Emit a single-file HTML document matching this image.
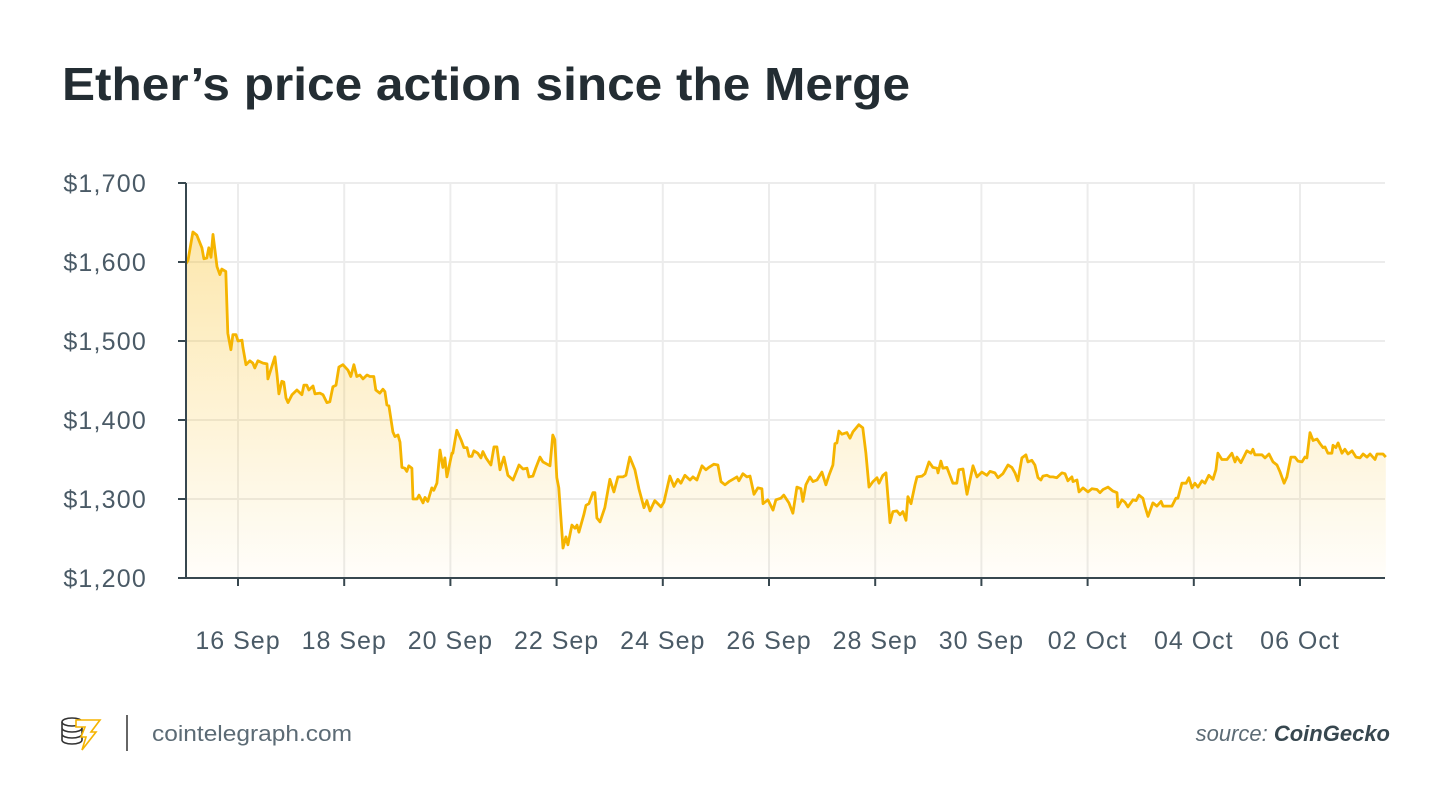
<!DOCTYPE html>
<html><head><meta charset="utf-8"><style>
body{margin:0;background:#fff;width:1450px;height:812px;overflow:hidden;font-family:"Liberation Sans",sans-serif;}
svg{display:block}
</style></head><body>
<svg id="chart" width="1450" height="812">
<defs><linearGradient id="fillGrad" x1="0" y1="0" x2="0" y2="1">
<stop offset="0" stop-color="#F7B500" stop-opacity="0.32"/>
<stop offset="1" stop-color="#F7B500" stop-opacity="0.02"/></linearGradient></defs>
<text x="62" y="100" font-size="46" font-weight="bold" fill="#232d33" textLength="848" lengthAdjust="spacingAndGlyphs">Ether’s price action since the Merge</text>
<g id="grid"></g>
<g id="area"></g>
<g id="axes"></g>
<g>
 <g fill="none" stroke-width="1.6">
  <ellipse cx="72" cy="722" rx="10" ry="4" stroke="#333"/>
  <path d="M62 722v6c0 2.2 4.5 4 10 4s10-1.8 10-4v-6M62 728v6c0 2.2 4.5 4 10 4s10-1.8 10-4v-6M62 734v6c0 2.2 4.5 4 10 4s10-1.8 10-4v-6" stroke="#333"/>
  <path d="M76 720h24l-9 12h5l-14 18 4-13h-5l4-10h-9z" stroke="#F5B400" fill="#fff"/>
 </g>
 <line x1="127" y1="715" x2="127" y2="751" stroke="#666" stroke-width="2"/>
 <text x="152" y="741" font-size="22" fill="#5c6b75" textLength="200" lengthAdjust="spacingAndGlyphs">cointelegraph.com</text>
 <text x="1390" y="741" font-size="22" font-style="italic" fill="#5c6b75" text-anchor="end">source: <tspan font-weight="bold" fill="#37474f">CoinGecko</tspan></text>
</g>
</svg>
<script>
// hours since 15 Sep 00:00
const hours=[0.5,1.4,3.6,5.4,7.7,8.6,9.9,10.8,11.8,12.7,14.5,15.8,16.7,18.5,19.4,20.8,21.7,23.1,24.0,25.8,26.2,27.6,29.4,30.7,31.6,33.0,35.3,37.1,37.5,40.7,41.6,42.5,43.8,44.7,45.7,46.6,48.4,50.6,52.9,53.8,55.1,56.0,57.9,58.8,61.0,62.4,64.2,65.5,66.9,68.3,69.6,71.4,73.7,75.0,76.4,77.7,79.1,80.5,82.3,83.6,85.4,86.3,88.1,89.5,90.4,91.3,92.2,94.0,94.9,96.3,97.2,98.1,99.4,100.3,101.2,102.6,103.1,104.9,105.8,107.6,108.5,109.8,111.6,112.5,113.9,115.3,116.6,117.5,118.4,120.7,121.1,122.9,124.8,126.1,127.5,128.4,129.7,130.6,132.4,133.8,134.7,136.1,138.3,139.7,141.0,142.4,144.2,146.0,148.3,149.6,151.0,152.8,154.6,155.5,157.3,158.7,160.5,161.8,165.0,166.3,167.2,168.1,169.0,170.9,172.2,173.1,174.9,176.3,177.2,178.1,180.3,181.3,182.6,184.4,185.3,186.2,187.6,189.8,192.1,193.9,195.7,198.0,199.3,201.1,203.4,205.2,207.5,208.8,210.2,212.4,215.2,216.5,219.2,221.0,222.8,224.2,226.0,228.3,229.6,231.4,233.7,235.5,236.8,239.1,240.9,242.3,244.1,245.9,247.7,249.5,250.4,252.2,254.0,255.4,257.2,259.0,260.8,261.3,263.5,265.8,267.1,269.4,270.7,273.0,274.8,276.6,278.4,279.3,280.7,282.5,283.9,285.7,287.9,289.7,291.1,292.9,293.8,294.7,295.6,297.0,299.2,300.6,301.9,304.6,306.4,307.8,309.2,311.0,312.8,313.7,315.5,316.9,318.7,320.0,321.8,323.2,324.5,325.9,326.8,328.2,330.0,330.9,333.2,334.5,336.3,338.1,340.0,340.4,341.7,342.6,344.4,347.1,348.9,349.8,351.7,353.5,356.2,358.0,360.2,362.5,363.9,366.1,367.5,369.7,372.0,373.8,375.2,376.5,378.3,380.1,381.0,382.8,384.2,385.6,386.9,387.8,389.6,391.0,392.3,394.1,396.4,397.8,399.1,400.9,401.4,403.2,404.1,405.9,408.2,410.0,412.2,413.6,415.0,417.2,419.5,421.3,421.7,423.5,424.9,426.2,428.5,429.9,431.2,433.0,433.9,435.3,437.5,439.3,441.2,442.1,444.3,446.1,447.9,448.8,450.6,452.5,453.8,455.2,456.5,457.9,459.7,461.0,462.8,464.7,466.0,466.9,468.7,471.0,473.2,474.6,475.5,477.3,480.0,481.8,482.7,483.6,486.8,488.2,490.0,491.8,493.6,495.0,496.8,498.1,499.9,501.7,503.1,504.9,506.2,507.1,508.5,509.9,511.7,513.1,514.4,515.3,516.6,518.4,518.9,520.2,521.2,523.0,524.3,525.7,527.5,529.3,531.1,532.5,534.3,535.7,537.9,538.8,541.5,542.8];
const prices=[1598,1602,1638,1634,1618,1604,1605,1618,1606,1635,1594,1584,1591,1588,1510,1489,1508,1508,1500,1501,1492,1470,1475,1472,1466,1475,1472,1471,1452,1480,1459,1433,1449,1448,1428,1422,1432,1438,1432,1444,1444,1438,1443,1433,1434,1432,1422,1423,1442,1444,1467,1470,1463,1455,1470,1455,1457,1452,1457,1455,1455,1438,1434,1439,1436,1419,1418,1385,1379,1381,1372,1340,1339,1335,1342,1339,1300,1300,1305,1295,1302,1297,1314,1311,1320,1362,1340,1352,1328,1358,1358,1387,1375,1365,1365,1354,1354,1361,1358,1352,1360,1352,1343,1366,1366,1337,1353,1330,1324,1333,1343,1338,1339,1328,1329,1340,1353,1347,1342,1381,1375,1327,1314,1238,1252,1242,1267,1263,1267,1258,1280,1292,1294,1308,1308,1276,1271,1289,1325,1309,1328,1328,1330,1353,1337,1313,1289,1298,1285,1298,1290,1296,1329,1316,1325,1320,1330,1324,1328,1324,1342,1337,1340,1344,1343,1322,1318,1322,1325,1328,1323,1332,1328,1329,1306,1314,1313,1294,1299,1286,1299,1301,1305,1295,1282,1315,1313,1297,1318,1328,1322,1324,1334,1318,1330,1343,1370,1371,1386,1382,1384,1377,1385,1394,1390,1358,1315,1322,1327,1320,1330,1333,1270,1284,1285,1280,1284,1273,1303,1294,1318,1328,1329,1332,1347,1340,1339,1333,1348,1339,1340,1320,1320,1337,1338,1306,1342,1328,1334,1330,1335,1333,1327,1332,1343,1340,1333,1323,1352,1356,1347,1349,1343,1327,1324,1329,1330,1328,1328,1327,1333,1332,1323,1328,1322,1324,1309,1314,1309,1313,1312,1308,1312,1315,1310,1308,1290,1299,1296,1290,1299,1298,1305,1301,1291,1278,1295,1291,1297,1291,1291,1291,1301,1301,1320,1320,1327,1314,1320,1315,1323,1320,1330,1325,1337,1358,1350,1350,1358,1347,1353,1346,1361,1358,1363,1356,1356,1352,1357,1347,1343,1334,1320,1328,1353,1353,1348,1347,1353,1352,1384,1374,1376,1370,1365,1366,1358,1358,1368,1365,1371,1358,1363,1357,1361,1353,1352,1357,1353,1357,1350,1357,1357,1353];
const yTickValues=[1200,1300,1400,1500,1600,1700];
const xTickLabels=["16 Sep","18 Sep","20 Sep","22 Sep","24 Sep","26 Sep","28 Sep","30 Sep","02 Oct","04 Oct","06 Oct"];
const xTickHours=[24,72,120,168,216,264,312,360,408,456,504];

const NS="http://www.w3.org/2000/svg";
const X0=186,X1=1385,Y0=183,Y1=578;
function xScale(h){return 184.9+h/24*53.1;}
function yScale(p){return Y1-(p-1200)/500*(Y1-Y0);}
function mk(tag,attrs,parent){const e=document.createElementNS(NS,tag);for(const k in attrs)e.setAttribute(k,attrs[k]);parent.appendChild(e);return e;}
const grid=document.getElementById('grid'),area=document.getElementById('area'),axes=document.getElementById('axes');
yTickValues.forEach(v=>{const y=yScale(v);
 const g=mk('line',{x1:X0,x2:X1,y1:y,y2:y,stroke:'#ececec','stroke-width':2},grid);
 
 
 const t=mk('line',{x1:178,x2:X0,y1:y,y2:y,stroke:'#37474f','stroke-width':2},axes);
 
 
 const l=mk('text',{x:147,y:y+9,'font-size':25,fill:'#4a5a66','text-anchor':'end','letter-spacing':1.2},axes);
 l.textContent='$'+v.toLocaleString('en-US');
 
 
});
xTickHours.forEach((h,i)=>{const x=xScale(h);
 const g=mk('line',{x1:x,x2:x,y1:Y0,y2:Y1,stroke:'#ececec','stroke-width':2},grid);
 
 
 const t=mk('line',{x1:x,x2:x,y1:Y1,y2:Y1+8,stroke:'#37474f','stroke-width':2},axes);
 
 
 const l=mk('text',{x:x,y:649,'font-size':25,fill:'#4a5a66','text-anchor':'middle','letter-spacing':1},axes);
 l.textContent=xTickLabels[i];
 
 
});
let d='';hours.forEach((h,i)=>{d+=(i?'L':'M')+xScale(h).toFixed(1)+' '+yScale(prices[i]).toFixed(1);});
const fillPath=mk('path',{d:d+'L'+xScale(hours[hours.length-1]).toFixed(1)+' '+Y1+'L'+xScale(hours[0]).toFixed(1)+' '+Y1+'Z',fill:'url(#fillGrad)'},area);


const line=mk('path',{d:d,fill:'none',stroke:'#F5B400','stroke-width':2.8,'stroke-linejoin':'round'},area);


const ya=mk('line',{x1:X0,x2:X0,y1:Y0,y2:Y1+1,stroke:'#37474f','stroke-width':2},axes);


const xa=mk('line',{x1:X0-1,x2:X1,y1:Y1,y2:Y1,stroke:'#37474f','stroke-width':2},axes);


</script>
</body></html>
